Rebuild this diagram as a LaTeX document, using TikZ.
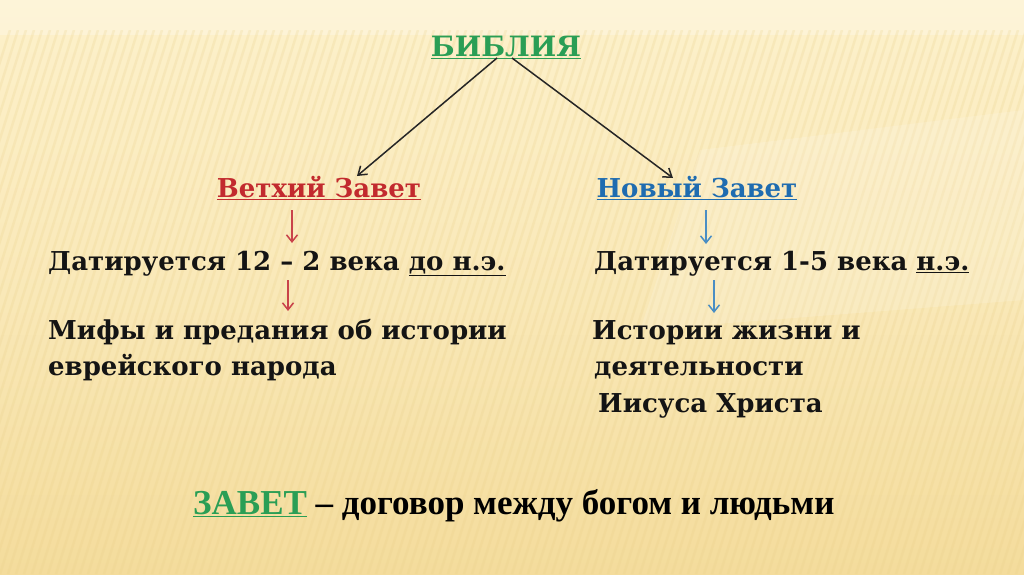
\documentclass[tikz,border=0pt]{standalone}
\usepackage{fontspec}
\setmainfont{DejaVu Serif}
\newfontfamily\timesb{Liberation Serif}
\usetikzlibrary{arrows.meta}
\definecolor{bgtop}{HTML}{FDF1CB}
\definecolor{bgbot}{HTML}{F4DC9C}
\definecolor{stripe}{HTML}{E9CF88}
\definecolor{bibgreen}{HTML}{2A9E55}
\definecolor{oldred}{HTML}{C22A2E}
\definecolor{newblue}{HTML}{1F6CB0}
\definecolor{arrred}{HTML}{C9434A}
\definecolor{arrblue}{HTML}{4A8EC4}
\tikzset{
  txt/.style={anchor=base west, inner sep=0pt, font=\bfseries\fontsize{26}{30}\selectfont, text=black!92},
  ttl/.style={anchor=base, inner sep=0pt, font=\bfseries\fontsize{26}{30}\selectfont},
  link/.style={draw=black!85, line width=1.5pt, -{Straight Barb[length=8pt,width=11pt]}},
  redarr/.style={draw=arrred, line width=1.5pt, -{Straight Barb[length=7pt,width=11pt]}},
  bluearr/.style={draw=arrblue, line width=1.5pt, -{Straight Barb[length=7pt,width=11pt]}},
}
\begin{document}
\begin{tikzpicture}[x=1pt,y=-1pt]
\useasboundingbox (0,0) rectangle (1024,574);
\shade[top color=bgtop, bottom color=bgbot, middle color=bgtop!60!bgbot] (0,0) rectangle (1024,574);
\fill[white, opacity=0.25] (0,0) rectangle (1024,35);
\begin{scope}
\clip (0,30) rectangle (1024,574);
\foreach \i in {-20,...,135} {
  \draw[stripe, opacity=0.22, line width=2.5pt] (\i*8,574) -- (\i*8+170,30);
}
\end{scope}
\fill[white, opacity=0.15] (700,150) -- (1024,110) -- (1024,300) -- (640,330) -- cycle;

% nodes
\node[ttl, text=bibgreen, font=\bfseries\fontsize{28}{32}\selectfont] (bib) at (506,56) {\underline{БИБЛИЯ}};
\node[ttl, text=oldred] (vz) at (319,197) {\underline{Ветхий Завет}};
\node[ttl, text=newblue] (nz) at (697,197) {\underline{Новый Завет}};

\node[txt] (d1) at (48,270) {Датируется 12 – 2 века \underline{до н.э.}};
\node[txt] (d2) at (594,270) {Датируется 1-5 века \underline{н.э.}};

\node[txt] (m1) at (48,339) {Мифы и предания об истории};
\node[txt] (m2) at (48,375) {еврейского народа};

\node[txt] (h1) at (592,339) {Истории жизни и};
\node[txt] (h2) at (594,375) {деятельности};
\node[txt] (h3) at (598,412) {Иисуса Христа};

\node[anchor=base west, inner sep=0pt, font=\timesb\bfseries\fontsize{35}{38}\selectfont] (zav) at (193,514)
  {\textcolor{bibgreen}{\underline{ЗАВЕТ}} – договор между богом и людьми};

% connectors
\coordinate (bl) at (497,58);
\coordinate (br) at (512,58);
\coordinate (vt) at (357,176);
\coordinate (nt) at (673,178);
\draw[link] (bl) -- (vt);
\draw[link] (br) -- (nt);

\coordinate (r1a) at (292,210); \coordinate (r1b) at (292,243);
\coordinate (r2a) at (288,280); \coordinate (r2b) at (288,311);
\coordinate (b1a) at (706,210); \coordinate (b1b) at (706,244);
\coordinate (b2a) at (714,280); \coordinate (b2b) at (714,313);
\draw[redarr] (r1a) -- (r1b);
\draw[redarr] (r2a) -- (r2b);
\draw[bluearr] (b1a) -- (b1b);
\draw[bluearr] (b2a) -- (b2b);
\end{tikzpicture}
\end{document}
